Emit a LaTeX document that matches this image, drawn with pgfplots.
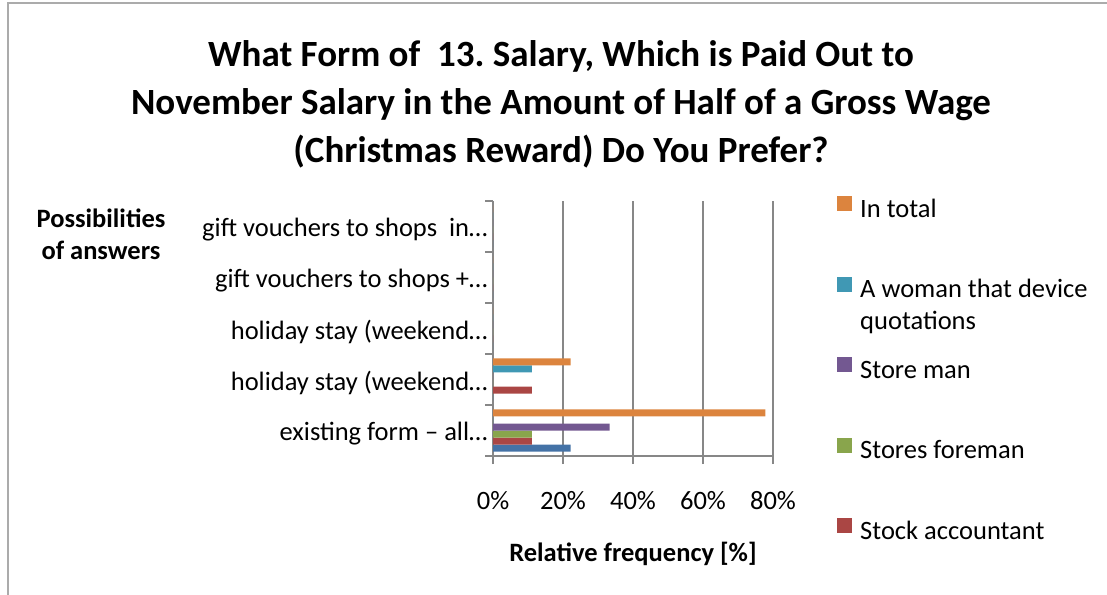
\documentclass[border=0pt]{standalone}
\usepackage{pgfplots}
\pgfplotsset{compat=1.18}
\usepackage{fontspec}
\setmainfont{Carlito}
\frenchspacing
\definecolor{cBlue}{HTML}{4472A6}
\definecolor{cRed}{HTML}{AA4644}
\definecolor{cGreen}{HTML}{89A54C}
\definecolor{cPurple}{HTML}{735891}
\definecolor{cCyan}{HTML}{4098B4}
\definecolor{cOrange}{HTML}{DC843E}
\definecolor{cGrid}{HTML}{878787}
\begin{document}
\begin{tikzpicture}[x=1pt,y=1pt]
\useasboundingbox (0,0) rectangle (1107,594);
\draw[cGrid!70, line width=1.5pt] (8,-20) -- (8,591) -- (1130,591);
\node[font=\bfseries\fontsize{37}{48}\selectfont, align=center] at (561,490) {What Form of\ \ 13. Salary, Which is Paid Out to\\November Salary in the Amount of Half of a Gross Wage\\(Christmas Reward) Do You Prefer?};
\node[font=\bfseries\fontsize{26.5}{32}\selectfont, align=center] at (101,360) {Possibilities\\of answers};
\begin{axis}[
  at={(493pt,138pt)}, anchor=south west,
  scale only axis, width=280pt, height=255pt,
  xmin=0, xmax=80, ymin=-0.5, ymax=4.5,
  xbar, bar width=7pt,
  axis lines*=left,
  axis line style={cGrid, line width=1.5pt},
  xtick={0,20,40,60,80},
  xticklabel={\pgfmathprintnumber{\tick}\%},
  /pgf/number format/assume math mode=true,
  xmajorgrids, grid style={cGrid, line width=1.5pt},
  tick align=outside, major tick length=8pt,
  tick style={cGrid, line width=1.5pt},
  ytick={-0.5,0.5,...,4.5}, yticklabels={},
  extra y ticks={0,1,2,3,4},
  extra y tick labels={existing form – all…,holiday stay (weekend…,holiday stay (weekend…,gift vouchers to shops +…,gift vouchers to shops\ \ in…},
  extra y tick style={major tick length=0pt, yticklabel style={xshift=-2pt, yshift=-3pt}},
  y tick label style={font=\fontsize{26.5}{32}\selectfont, anchor=east},
  x tick label style={font=\fontsize{26.5}{32}\selectfont, yshift=-24pt},
  xlabel={\bfseries Relative frequency [\%]},
  xlabel style={font=\fontsize{26.5}{32}\selectfont, yshift=-25pt},
  legend style={at={(1.2286,1.02)}, anchor=north west, draw=none, fill=none,
    inner sep=0pt, row sep=54.5pt, column sep=8pt,
    font=\fontsize{26.5}{32}\selectfont,
    nodes={inner sep=0pt, text depth=5pt, text height=17pt, align=left}},
  legend cell align=left,
  reverse legend,
  legend image code/.code={\fill[#1] (0pt,0pt) rectangle (15pt,15pt);},
]
\addplot[draw=none, fill=cBlue, bar shift=-17.5pt, forget plot] coordinates {(22.2,0) (0,1) (0,2) (0,3) (0,4)};
\addplot[draw=none, fill=cRed, bar shift=-10.5pt] coordinates {(11.1,0) (11.1,1) (0,2) (0,3) (0,4)};
\addlegendentry{Stock accountant}
\addplot[draw=none, fill=cGreen, bar shift=-3.5pt] coordinates {(11.1,0) (0,1) (0,2) (0,3) (0,4)};
\addlegendentry{Stores foreman}
\addplot[draw=none, fill=cPurple, bar shift=3.5pt] coordinates {(33.3,0) (0,1) (0,2) (0,3) (0,4)};
\addlegendentry{Store man}
\addplot[draw=none, fill=cCyan, bar shift=10.5pt] coordinates {(0,0) (11.1,1) (0,2) (0,3) (0,4)};
\addlegendentry{\parbox[t]{240pt}{\raggedright A woman that device\\quotations}}
\addplot[draw=none, fill=cOrange, bar shift=17.5pt] coordinates {(77.8,0) (22.2,1) (0,2) (0,3) (0,4)};
\addlegendentry{In total}
\end{axis}
\end{tikzpicture}
\end{document}
